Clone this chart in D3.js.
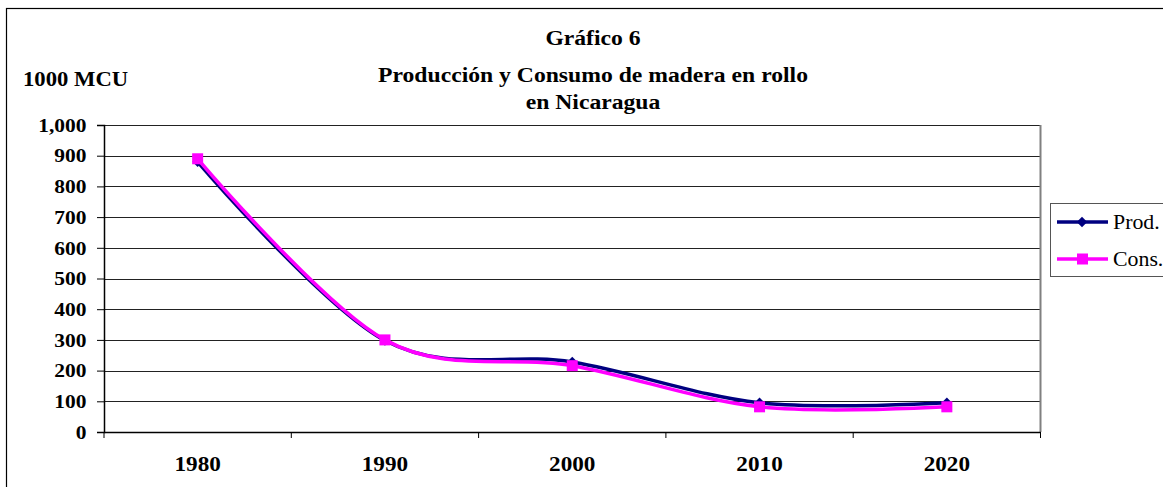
<!DOCTYPE html>
<html>
<head>
<meta charset="utf-8">
<script src="https://cdn.jsdelivr.net/npm/d3@7"></script>
<style>
  body { margin: 0; background: #fff; }
  svg { display: block; }
  svg text { font-family: "Times New Roman", Times, "Liberation Serif", "DejaVu Serif", serif; }
</style>
</head>
<body>
<svg id="chart" width="1163" height="487"></svg>
<script>
const years = ["1980", "1990", "2000", "2010", "2020"];
const prod = [880, 298, 228, 95, 95];
const cons = [890, 300, 216, 82, 82];
const yTicks = [0, 100, 200, 300, 400, 500, 600, 700, 800, 900, 1000];
const titleLines = ["Gráfico 6", "Producción y Consumo de madera en rollo", "en Nicaragua"];
const seriesNames = ["Prod.", "Cons."];

const svg = d3.select("#chart");

const plot = { left: 104, top: 125, right: 1040.5, bottom: 432 };
// the source picture is a little wider than tall, so text gets stretched
const stretch = 1.08;

// outer frame (clipped on right/bottom like the source)
svg.append("rect")
    .attr("x", 6.5).attr("y", 8.5)
    .attr("width", 1170).attr("height", 500)
    .attr("fill", "none").attr("stroke", "#000").attr("stroke-width", 1.2);

const x = d3.scaleBand().domain(years).range([plot.left, plot.right]);
const y = d3.scaleLinear().domain([0, 1000]).range([plot.bottom, plot.top]);

// gridlines
svg.append("g").selectAll("line")
    .data(yTicks.filter(d => d > 0))
    .enter().append("line")
    .attr("x1", plot.left).attr("x2", plot.right)
    .attr("y1", d => Math.round(y(d)) + 0.5).attr("y2", d => Math.round(y(d)) + 0.5)
    .attr("stroke", "#222").attr("stroke-width", 1);

// plot right border
svg.append("line")
    .attr("x1", plot.right).attr("x2", plot.right)
    .attr("y1", plot.top).attr("y2", plot.bottom)
    .attr("stroke", "#808080").attr("stroke-width", 2);

// y axis
const yAxis = svg.append("g")
    .attr("transform", `translate(${plot.left},0)`)
    .call(d3.axisLeft(y).tickValues(yTicks).tickFormat(d3.format(",")).tickSize(7).tickPadding(9));
yAxis.attr("font-family", null);
yAxis.select(".domain").attr("stroke", "#000").attr("stroke-width", 1.5);
yAxis.selectAll(".tick line").attr("stroke", "#000");
yAxis.selectAll("text")
    .attr("font-size", "19.5px").attr("font-weight", "bold").attr("fill", "#000")
    .attr("transform", `scale(${stretch + 0.02},1)`);

// x axis: labels centred, ticks at category boundaries
const xAxis = svg.append("g")
    .attr("transform", `translate(0,${plot.bottom})`)
    .call(d3.axisBottom(x).tickSize(0).tickPadding(24));
xAxis.attr("font-family", null);
xAxis.select(".domain").attr("stroke", "#000").attr("stroke-width", 1.5);
xAxis.selectAll("text")
    .attr("font-size", "21.5px").attr("font-weight", "bold").attr("fill", "#000")
    .attr("transform", `scale(${stretch},1)`);

const edges = years.map(d => x(d)).concat([x(years[years.length - 1]) + x.bandwidth()]);
xAxis.selectAll(".edge")
    .data(edges)
    .enter().append("line")
    .attr("x1", d => d).attr("x2", d => d)
    .attr("y1", 0).attr("y2", 6)
    .attr("stroke", "#000");

// lines
const line = d3.line()
    .x((d, i) => x(years[i]) + x.bandwidth() / 2)
    .y(d => y(d))
    .curve(d3.curveCardinal.tension(0));

svg.append("path").datum(prod)
    .attr("d", line).attr("fill", "none")
    .attr("stroke", "#000080").attr("stroke-width", 3.5);

svg.append("g").selectAll("path")
    .data(prod).enter().append("path")
    .attr("transform", (d, i) => `translate(${x(years[i]) + x.bandwidth() / 2},${y(d)})`)
    .attr("d", d3.symbol().type(d3.symbolDiamond2).size(70))
    .attr("fill", "#000080");

svg.append("path").datum(cons)
    .attr("d", line).attr("fill", "none")
    .attr("stroke", "#FF00FF").attr("stroke-width", 3.5);

svg.append("g").selectAll("rect")
    .data(cons).enter().append("rect")
    .attr("x", (d, i) => x(years[i]) + x.bandwidth() / 2 - 5.5)
    .attr("y", d => y(d) - 5.5)
    .attr("width", 11).attr("height", 11)
    .attr("fill", "#FF00FF");

// titles
const titleY = [45, 82, 109];
svg.append("g").selectAll("text")
    .data(titleLines).enter().append("text")
    .attr("transform", (d, i) => `translate(593,${titleY[i]}) scale(${stretch + 0.02},1)`)
    .attr("text-anchor", "middle")
    .attr("font-size", "21.5px").attr("font-weight", "bold")
    .text(d => d);

svg.append("text")
    .attr("transform", `translate(23,86) scale(${stretch},1)`)
    .attr("font-size", "21px").attr("font-weight", "bold")
    .text("1000 MCU");

// legend
const legend = svg.append("g");
legend.append("rect")
    .attr("x", 1050.5).attr("y", 203.5)
    .attr("width", 130).attr("height", 73)
    .attr("fill", "#fff").attr("stroke", "#555").attr("stroke-width", 1);

const legColors = ["#000080", "#FF00FF"];
const legY = [222, 259];
seriesNames.forEach((name, i) => {
    legend.append("line")
        .attr("x1", 1057).attr("x2", 1108)
        .attr("y1", legY[i]).attr("y2", legY[i])
        .attr("stroke", legColors[i]).attr("stroke-width", 3.5);
    if (i === 0) {
        legend.append("path")
            .attr("transform", `translate(1082,${legY[i]})`)
            .attr("d", d3.symbol().type(d3.symbolDiamond2).size(70))
            .attr("fill", legColors[i]);
    } else {
        legend.append("rect")
            .attr("x", 1077).attr("y", legY[i] - 5.5)
            .attr("width", 11).attr("height", 11)
            .attr("fill", legColors[i]);
    }
    legend.append("text")
        .attr("transform", `translate(1113,${legY[i] + 7}) scale(1.04,1)`)
        .attr("font-size", "21px")
        .text(name);
});
</script>
</body>
</html>
